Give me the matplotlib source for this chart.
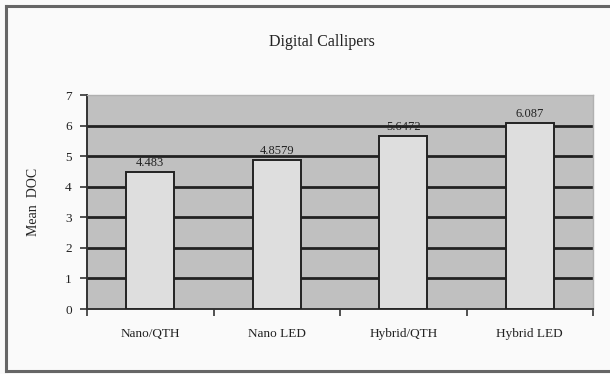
import matplotlib
matplotlib.use("Agg")
import matplotlib.pyplot as plt
from matplotlib.lines import Line2D

categories = ["Nano/QTH", "Nano LED", "Hybrid/QTH", "Hybrid LED"]
mean_doc = [4.483, 4.8579, 5.6472, 6.087]
value_labels = ["4.483", "4.8579", "5.6472", "6.087"]
y_ticks = [0, 1, 2, 3, 4, 5, 6, 7]

plt.rcParams["font.family"] = ["Liberation Serif", "DejaVu Serif"]

W, H = 610, 374
fig = plt.figure(figsize=(W / 100, H / 100), dpi=100, facecolor="#fafafa")

# outer chart frame (top, left, bottom edges)
for xs, ys in [((6 / W, 1.0), (1 - 6 / H, 1 - 6 / H)),
               ((6 / W, 6 / W), (1 - 6 / H, 1 - 371 / H)),
               ((6 / W, 1.0), (1 - 371 / H, 1 - 371 / H))]:
    fig.add_artist(Line2D(xs, ys, transform=fig.transFigure,
                          color="#666666", lw=2.2))

ax = fig.add_axes([87 / W, 1 - 309 / H, (593 - 87) / W, (309 - 95) / H])
ax.set_facecolor("#c0c0c0")

x = range(len(categories))
bars = ax.bar(x, mean_doc, width=0.38, color="#dedede",
              edgecolor="#222222", linewidth=1.4, zorder=3)

for rect, lab in zip(bars, value_labels):
    ax.text(rect.get_x() + rect.get_width() / 2, rect.get_height() + 0.1,
            lab, ha="center", va="bottom", fontsize=9, color="#222222",
            zorder=4)

# horizontal gridlines at the inner ticks only; the top edge stays plain
for t in y_ticks[1:-1]:
    ax.axhline(t, color="#222222", linewidth=2.0, zorder=1)

ax.set_xlim(-0.5, len(categories) - 0.5)
ax.set_ylim(0, 7)
ax.set_yticks(y_ticks)
ax.set_xticks(list(x))
ax.set_xticklabels(categories, fontsize=9.5, color="#222222")
ax.set_yticklabels([str(t) for t in y_ticks], fontsize=9.5, color="#222222")
ax.set_xticks([i + 0.5 for i in range(-1, len(categories))], minor=True)
ax.tick_params(axis="x", which="major", length=0, pad=14)
ax.tick_params(axis="x", which="minor", length=5, width=1.2, color="#333333")
ax.tick_params(axis="y", length=5, width=1.2, color="#333333", pad=6)

for side in ("top", "right"):
    ax.spines[side].set_color("#b0b0b0")
    ax.spines[side].set_linewidth(1.0)
for side in ("left", "bottom"):
    ax.spines[side].set_color("#333333")
    ax.spines[side].set_linewidth(1.4)

ax.set_ylabel("Mean  DOC", fontsize=10, color="#222222", labelpad=18)
fig.text(322 / W, 1 - 42 / H, "Digital Callipers", ha="center", va="center",
         fontsize=11.5, color="#222222")

fig.savefig("out.png", dpi=100, facecolor=fig.get_facecolor())
